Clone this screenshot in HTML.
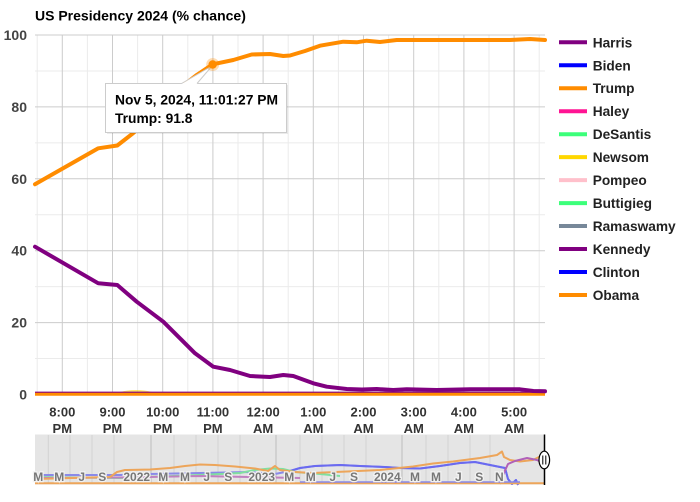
<!DOCTYPE html>
<html><head><meta charset="utf-8"><style>
html,body{margin:0;padding:0;background:#fff;}
svg{display:block;}
text{font-family:"Liberation Sans",Arial,sans-serif;font-weight:bold;}
</style></head><body>
<svg width="700" height="502" viewBox="0 0 700 502" xmlns="http://www.w3.org/2000/svg">
<rect x="0" y="0" width="700" height="502" fill="#fff"/>
<!-- title -->
<text x="35" y="20.7" font-size="14" fill="#000">US Presidency 2024 (% chance)</text>

<!-- minor horizontal grid -->
<g stroke="#ebebeb" stroke-width="1">
<line x1="35" x2="545" y1="70.95" y2="70.95"/>
<line x1="35" x2="545" y1="142.85" y2="142.85"/>
<line x1="35" x2="545" y1="214.75" y2="214.75"/>
<line x1="35" x2="545" y1="286.65" y2="286.65"/>
<line x1="35" x2="545" y1="358.55" y2="358.55"/>
</g>
<!-- minor vertical grid -->
<g stroke="#ebebeb" stroke-width="1">
<line y1="35" y2="394" x1="37.2" x2="37.2"/>
<line y1="35" y2="394" x1="87.4" x2="87.4"/>
<line y1="35" y2="394" x1="137.6" x2="137.6"/>
<line y1="35" y2="394" x1="187.8" x2="187.8"/>
<line y1="35" y2="394" x1="238" x2="238"/>
<line y1="35" y2="394" x1="288.2" x2="288.2"/>
<line y1="35" y2="394" x1="338.4" x2="338.4"/>
<line y1="35" y2="394" x1="388.6" x2="388.6"/>
<line y1="35" y2="394" x1="438.8" x2="438.8"/>
<line y1="35" y2="394" x1="489" x2="489"/>
<line y1="35" y2="394" x1="539.2" x2="539.2"/>
</g>
<!-- major grid -->
<g stroke="#cccccc" stroke-width="1">
<line x1="35" x2="545" y1="35" y2="35"/>
<line x1="35" x2="545" y1="106.9" y2="106.9"/>
<line x1="35" x2="545" y1="178.8" y2="178.8"/>
<line x1="35" x2="545" y1="250.7" y2="250.7"/>
<line x1="35" x2="545" y1="322.6" y2="322.6"/>
<line y1="35" y2="394" x1="62.3" x2="62.3"/>
<line y1="35" y2="394" x1="112.5" x2="112.5"/>
<line y1="35" y2="394" x1="162.7" x2="162.7"/>
<line y1="35" y2="394" x1="212.9" x2="212.9"/>
<line y1="35" y2="394" x1="263.1" x2="263.1"/>
<line y1="35" y2="394" x1="313.3" x2="313.3"/>
<line y1="35" y2="394" x1="363.5" x2="363.5"/>
<line y1="35" y2="394" x1="413.7" x2="413.7"/>
<line y1="35" y2="394" x1="463.9" x2="463.9"/>
<line y1="35" y2="394" x1="514.1" x2="514.1"/>
</g>

<!-- y labels -->
<g font-size="14" fill="#444" text-anchor="end">
<text x="27" y="40">100</text>
<text x="27" y="111.9">80</text>
<text x="27" y="183.8">60</text>
<text x="27" y="255.7">40</text>
<text x="27" y="327.6">20</text>
<text x="27" y="399.5">0</text>
</g>

<!-- x labels -->
<g font-size="13" fill="#333" text-anchor="middle">
<text x="62.3" y="416.5">8:00</text><text x="62.3" y="433">PM</text>
<text x="112.5" y="416.5">9:00</text><text x="112.5" y="433">PM</text>
<text x="162.7" y="416.5">10:00</text><text x="162.7" y="433">PM</text>
<text x="212.9" y="416.5">11:00</text><text x="212.9" y="433">PM</text>
<text x="263.1" y="416.5">12:00</text><text x="263.1" y="433">AM</text>
<text x="313.3" y="416.5">1:00</text><text x="313.3" y="433">AM</text>
<text x="363.5" y="416.5">2:00</text><text x="363.5" y="433">AM</text>
<text x="413.7" y="416.5">3:00</text><text x="413.7" y="433">AM</text>
<text x="463.9" y="416.5">4:00</text><text x="463.9" y="433">AM</text>
<text x="514.1" y="416.5">5:00</text><text x="514.1" y="433">AM</text>
</g>

<!-- zero lines -->
<path d="M120,393 Q136,389 152,393" stroke="#ffd700" stroke-width="2" fill="none" opacity="0.6"/>
<line x1="35" x2="545" y1="392.6" y2="392.6" stroke="#800080" stroke-width="2"/>
<line x1="35" x2="545" y1="394.3" y2="394.3" stroke="#ff8c00" stroke-width="3"/>

<!-- Harris -->
<polyline fill="none" stroke="#800080" stroke-width="4" stroke-linejoin="round" stroke-linecap="round"
points="35,246.7 98.3,283.3 117.3,285 136.7,301.7 163.3,321.7 195,353.3 213.3,366.7 230,370 250,376 270,377 283.3,375 293.3,376 313.3,383.3 326.7,386.7 346.7,389 362,389.5 376.7,389 393.3,390 406.7,389.3 436.7,390 470,389.3 520,389.3 533.3,391 545,391.3"/>

<!-- Trump -->
<polyline fill="none" stroke="#ff8c00" stroke-width="4" stroke-linejoin="round" stroke-linecap="round"
points="35,184.3 98.3,148.3 117.3,145.5 133,133.3 150,118 165,104 180,88 196.7,75 212.7,64.3 233.3,60 251.7,54.5 270,54 283.3,56 290,55.5 305,51 320,45.7 343.3,41.7 356.7,42.3 366.7,40.7 380,42 396.7,40 420,40 486.7,40 510,40 530,39 545,40"/>

<!-- tooltip -->
<rect x="107" y="85" width="181" height="49" fill="#000" opacity="0.08"/>
<rect x="105.5" y="83.5" width="181" height="49" fill="#fff" stroke="#cccccc" stroke-width="1"/>
<polygon points="181.5,84 197,84 212,66" fill="#fff"/>
<polyline points="181.5,83.5 212,66 197,83.5" fill="none" stroke="#cccccc" stroke-width="1"/>
<circle cx="212.7" cy="64.5" r="6.5" fill="#ff8c00" opacity="0.3"/>
<circle cx="212.7" cy="64.5" r="4.2" fill="#ff8c00"/>
<text x="115" y="104.5" font-size="13.8" fill="#000" textLength="163" lengthAdjust="spacingAndGlyphs">Nov 5, 2024, 11:01:27 PM</text>
<text x="115" y="123" font-size="13.8" fill="#000">Trump: 91.8</text>

<!-- legend -->
<g stroke-width="4">
<line x1="559" x2="587" y1="42.3" y2="42.3" stroke="#800080"/>
<line x1="559" x2="587" y1="65.3" y2="65.3" stroke="#0000ff"/>
<line x1="559" x2="587" y1="88.2" y2="88.2" stroke="#ff8c00"/>
<line x1="559" x2="587" y1="111.2" y2="111.2" stroke="#ff1493"/>
<line x1="559" x2="587" y1="134.2" y2="134.2" stroke="#3cff7a"/>
<line x1="559" x2="587" y1="157.1" y2="157.1" stroke="#ffd700"/>
<line x1="559" x2="587" y1="180.1" y2="180.1" stroke="#ffc0cb"/>
<line x1="559" x2="587" y1="203.1" y2="203.1" stroke="#3cff7a"/>
<line x1="559" x2="587" y1="226" y2="226" stroke="#778899"/>
<line x1="559" x2="587" y1="249" y2="249" stroke="#800080"/>
<line x1="559" x2="587" y1="272" y2="272" stroke="#0000ff"/>
<line x1="559" x2="587" y1="295" y2="295" stroke="#ff8c00"/>
</g>
<g font-size="13.7" fill="#222">
<text x="592.7" y="47.3">Harris</text>
<text x="592.7" y="70.3">Biden</text>
<text x="592.7" y="93.2">Trump</text>
<text x="592.7" y="116.2">Haley</text>
<text x="592.7" y="139.2">DeSantis</text>
<text x="592.7" y="162.1">Newsom</text>
<text x="592.7" y="185.1">Pompeo</text>
<text x="592.7" y="208.1">Buttigieg</text>
<text x="592.7" y="231">Ramaswamy</text>
<text x="592.7" y="254">Kennedy</text>
<text x="592.7" y="277">Clinton</text>
<text x="592.7" y="300">Obama</text>
</g>

<!-- range selector -->
<rect x="35" y="434.5" width="510" height="50" fill="#e5e5e5"/>
<g stroke="#d2d2d2" stroke-width="1">
<line x1="48.3" x2="48.3" y1="435" y2="484"/>
<line x1="70" x2="70" y1="435" y2="484"/>
<line x1="92" x2="92" y1="435" y2="484"/>
<line x1="114" x2="114" y1="435" y2="484"/>
<line x1="174" x2="174" y1="435" y2="484"/>
<line x1="196" x2="196" y1="435" y2="484"/>
<line x1="218" x2="218" y1="435" y2="484"/>
<line x1="240" x2="240" y1="435" y2="484"/>
<line x1="300" x2="300" y1="435" y2="484"/>
<line x1="322" x2="322" y1="435" y2="484"/>
<line x1="344" x2="344" y1="435" y2="484"/>
<line x1="366" x2="366" y1="435" y2="484"/>
<line x1="426" x2="426" y1="435" y2="484"/>
<line x1="448" x2="448" y1="435" y2="484"/>
<line x1="470" x2="470" y1="435" y2="484"/>
<line x1="490" x2="490" y1="435" y2="484"/>
</g>
<g stroke="#bdbdbd" stroke-width="1">
<line x1="151" x2="151" y1="435" y2="484"/>
<line x1="276" x2="276" y1="435" y2="484"/>
<line x1="402" x2="402" y1="435" y2="484"/>
</g>
<g fill="none" stroke-width="2" stroke-linejoin="round">
<polyline stroke="#8a8ae8" points="35,475 120,475 150,474 200,473 250,472 275,474 290,471 300,468 315,466 340,465 360,466 385,467 400,468 420,468.5 440,466 460,463 475,462 490,465 505,468 508,479 512,484 516,480 518,485"/>
<polyline stroke="#6a6af0" points="290,471 300,468 315,466 340,465 360,466 385,467 400,468 420,468.5 440,466 460,463 475,462 490,465 505,468 508,479 512,484 516,480 518,485"/>
<polyline stroke="#80e0a0" points="35,477 120,478 200,475 240,473 255,470 270,468.5 283,469 295,472 320,474 340,476"/>
<polyline stroke="#c080c0" points="35,478 120,477.5 200,476 300,478"/>
<polyline stroke="#eda55a" points="35,479 110,477 117,472 125,470 150,469.5 170,468 185,466 200,464.5 215,465 235,466.5 255,468.5 268,471 275,466 280,470 295,472 313,473 347,471.5 380,470 413,466.5 433,463.5 453,461.5 480,458 497,455 502,451.5 504,457 510,460 520,461.5 533,460 543,455"/>
<polyline stroke="#b060b8" points="500,484 503,475 508,464 515,461 527,458 537,460 543,463"/>
<line x1="35" x2="545" y1="483.3" y2="483.3" stroke="#eda55a"/>
<line x1="300" x2="520" y1="482" y2="482" stroke="#8a8ae8" stroke-width="1.5"/>
</g>
<g font-size="12" fill="#777" text-anchor="middle" stroke="#f2f2f2" stroke-width="2.5" paint-order="stroke" style="paint-order:stroke">
<text x="38.3" y="481">M</text>
<text x="59.3" y="481">M</text>
<text x="81.7" y="481">J</text>
<text x="102.3" y="481">S</text>
<text x="136.7" y="481">2022</text>
<text x="163.3" y="481">M</text>
<text x="185" y="481">M</text>
<text x="206.7" y="481">J</text>
<text x="228.3" y="481">S</text>
<text x="261.7" y="481">2023</text>
<text x="289.3" y="481">M</text>
<text x="310.7" y="481">M</text>
<text x="332.7" y="481">J</text>
<text x="354" y="481">S</text>
<text x="387.3" y="481">2024</text>
<text x="415" y="481">M</text>
<text x="436" y="481">M</text>
<text x="458.3" y="481">J</text>
<text x="479.3" y="481">S</text>
<text x="499.3" y="481">N</text>
</g>
<line x1="544.5" x2="544.5" y1="434.5" y2="485" stroke="#000" stroke-width="1.5"/>
<ellipse cx="544.3" cy="460" rx="5.3" ry="8.8" fill="#fff" stroke="#000" stroke-width="1.2"/>
<line x1="542.8" x2="542.8" y1="455.5" y2="464.5" stroke="#000" stroke-width="1"/>
<line x1="545.8" x2="545.8" y1="455.5" y2="464.5" stroke="#000" stroke-width="1"/>
</svg>
</body></html>
